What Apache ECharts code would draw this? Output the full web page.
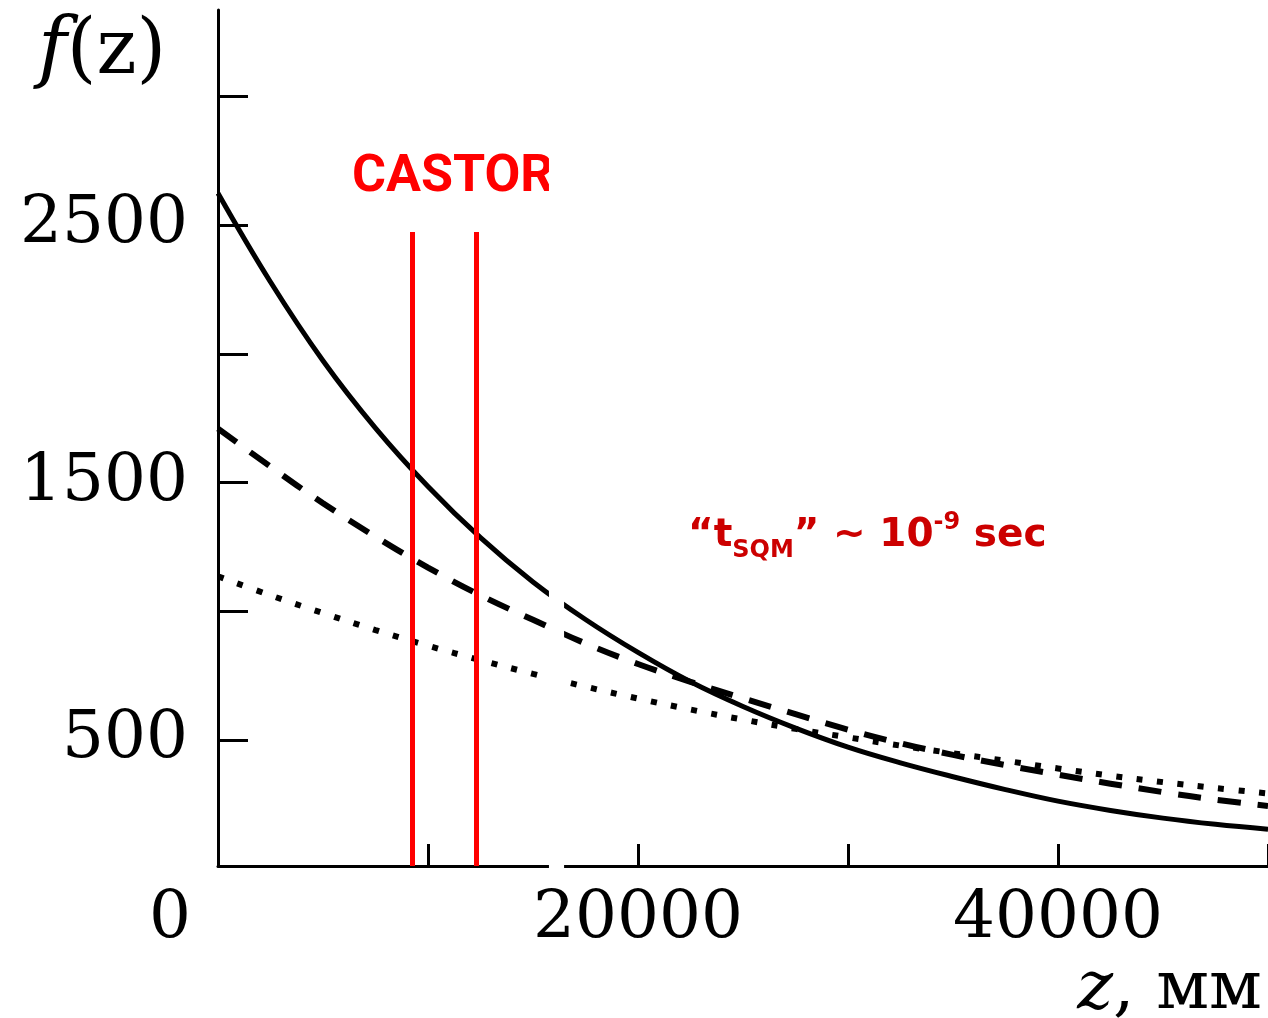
<!DOCTYPE html>
<html>
<head>
<meta charset="utf-8">
<script src="https://cdn.jsdelivr.net/npm/echarts@6/dist/echarts.min.js"></script>
<style>
  html, body { margin: 0; padding: 0; background: #fff; }
  #chart { width: 1268px; height: 1018px; }
</style>
</head>
<body>
<div id="chart"></div>
<script>
const zPoints = [0, 2500, 5000, 7500, 10000, 12500, 15000, 17500, 20000, 22500, 25000,
                 27500, 30000, 32500, 35000, 37500, 40000, 42500, 45000, 47500, 50000];
const solidValues  = [2625, 2280, 1974, 1712, 1485, 1286, 1114, 968, 840, 726, 630,
                      546, 472, 411, 357, 307, 262, 226, 196, 172, 153];
const dashedValues = [1710, 1562, 1420, 1290, 1170, 1062, 967, 875, 795, 726, 662,
                      600, 540, 487, 442, 402, 365, 330, 297, 268, 243];
const dottedValues = [1136, 1062, 993, 927, 866, 810, 757, 707, 661, 618, 579,
                      543, 510, 478, 448, 419, 389, 361, 336, 313, 292];

const yMin = 10;
const yMax = 3337;
const castorLines = [9240, 12290];
const castorTop = 2474;
const gapRange = [15760, 16480];

const xTicks = [0, 10000, 20000, 30000, 40000, 50000];
const xLabels = [0, 20000, 40000];
const yTicks = [500, 1000, 1500, 2000, 2500, 3000];
const yLabels = [500, 1500, 2500];

const pairs = vals => zPoints.map((z, i) => [z, vals[i]]);

const chart = echarts.init(document.getElementById("chart"));

const serif = '"DejaVu Serif", "Liberation Serif", serif';

const option = {
    animation: false,
    backgroundColor: "#fff",
    grid: { left: 218, right: 0, top: 10, bottom: 152 },
    xAxis: {
        type: "value",
        min: 0,
        max: 50000,
        axisLine: { lineStyle: { color: "#000", width: 3 } },
        axisTick: { inside: true, length: 22, customValues: xTicks, lineStyle: { color: "#000", width: 3 } },
        axisLabel: {
            customValues: xLabels,
            color: "#000",
            fontFamily: serif,
            fontSize: 66,
            margin: 21,
            formatter: v => (v === 0 ? "{o|0}" : String(v)),
            rich: { o: { fontFamily: serif, fontSize: 66, color: "#000", padding: [0, 96, 0, 0] } }
        },
        splitLine: { show: false }
    },
    yAxis: {
        type: "value",
        min: yMin,
        max: yMax,
        axisLine: { show: true, lineStyle: { color: "#000", width: 3 } },
        axisTick: { show: true, inside: true, length: 30, customValues: yTicks, lineStyle: { color: "#000", width: 3 } },
        axisLabel: {
            customValues: yLabels,
            color: "#000",
            fontFamily: serif,
            fontSize: 66,
            margin: 30,
            formatter: v => String(v)
        },
        splitLine: { show: false }
    },
    series: [
        {
            name: "solid",
            type: "line",
            data: pairs(solidValues),
            smooth: 0.4,
            showSymbol: false,
            lineStyle: { color: "#000", width: 5 },
            markLine: {
                silent: true,
                symbol: "none",
                label: { show: false },
                lineStyle: { color: "#ff0000", width: 5, type: "solid" },
                data: castorLines.map(z => [{ coord: [z, yMin] }, { coord: [z, castorTop] }])
            },
            z: 3
        },
        {
            name: "dashed",
            type: "line",
            data: pairs(dashedValues),
            smooth: 0.4,
            showSymbol: false,
            lineStyle: { color: "#000", width: 6, type: [23, 17], cap: "butt" },
            z: 2
        },
        {
            name: "dotted",
            type: "line",
            data: pairs(dottedValues),
            smooth: 0.4,
            showSymbol: false,
            lineStyle: { color: "#000", width: 6, type: [6, 14.5], cap: "butt" },
            z: 2
        }
    ],
    graphic: [
        {
            id: "fz",
            type: "text",
            left: 38,
            top: 14,
            style: {
                text: "{f|f}{p|(z)}",
                rich: {
                    f: { font: 'italic 78px ' + serif, fill: "#000" },
                    p: { font: '76px ' + serif, fill: "#000" }
                }
            }
        },
        {
            id: "castor",
            type: "text",
            left: 352,
            top: 152,
            style: { text: "CASTOR", font: "bold 52px Roboto", fill: "#ff0000" }
        },
        {
            id: "tsqm",
            type: "text",
            left: 688,
            top: 509,
            style: {
                text: "{q|\u201Ct}{sub|SQM}{q|\u201D ~ 10}{sup|-9}{q| sec}",
                fill: "#cc0000",
                rich: {
                    q: { font: 'bold 39px "DejaVu Sans"', fill: "#cc0000", lineHeight: 54, verticalAlign: "middle" },
                    sub: { font: 'bold 24px "DejaVu Sans"', fill: "#cc0000", lineHeight: 24, verticalAlign: "bottom" },
                    sup: { font: 'bold 24px "DejaVu Sans"', fill: "#cc0000", lineHeight: 24, verticalAlign: "top", padding: [2, 0, 0, 0] }
                }
            }
        },
        {
            id: "zmm",
            type: "text",
            right: 6,
            bottom: -6,
            style: {
                text: "{i|z}{n|, мм}",
                rich: {
                    i: { font: 'italic 68px ' + serif, fill: "#000" },
                    n: { font: '68px ' + serif, fill: "#000" }
                }
            }
        }
    ]
};

chart.setOption(option);

// white strip cutting through the figure (scan artefact in the original)
const gx1 = chart.convertToPixel({ xAxisIndex: 0 }, gapRange[0]);
const gx2 = chart.convertToPixel({ xAxisIndex: 0 }, gapRange[1]);
const axisY = chart.convertToPixel({ yAxisIndex: 0 }, yMin);
chart.setOption({
    graphic: [
        {
            id: "gap",
            type: "rect",
            z: 100,
            shape: { x: gx1, y: 0, width: gx2 - gx1, height: axisY + 8 },
            style: { fill: "#fff" }
        }
    ]
});
</script>
</body>
</html>
